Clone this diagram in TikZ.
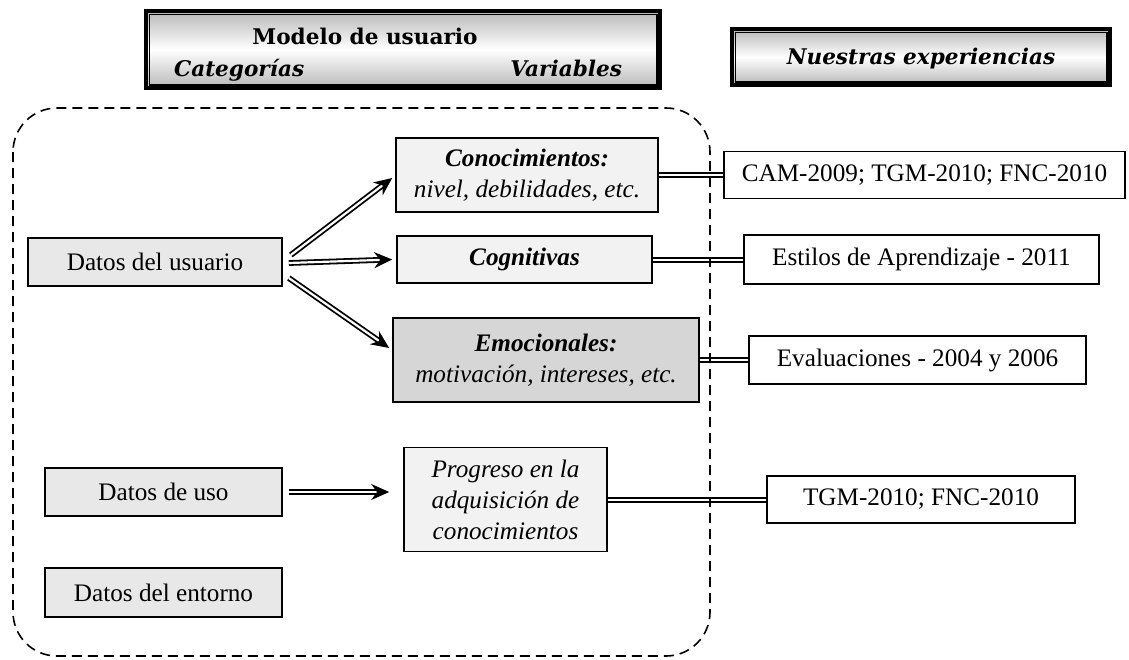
\documentclass[tikz,border=0pt]{standalone}
\usepackage{fontspec}
\setmainfont{Liberation Serif}
\newfontfamily\headfont{DejaVu Serif}
\usetikzlibrary{arrows.meta}

\begin{document}
\begin{tikzpicture}[
      x=0.5pt, y=-0.5pt,
      every node/.style={font=\fontsize{12.6}{15.5}\selectfont},
      box/.style={draw,line width=0.8pt,align=center,inner sep=0pt},
      datos/.style={box,fill=black!9},
      varbox/.style={box,fill=black!5},
      emocion/.style={box,fill=black!16},
      experiencia/.style={box,fill=white},
      head/.style={draw,line width=1.6pt,top color=black!28,bottom color=black!28,middle color=white,inner sep=0pt},
      head text/.style={font=\headfont\bfseries\fontsize{10.8}{12}\selectfont},
      head italic/.style={font=\headfont\bfseries\itshape\fontsize{10.8}{12}\selectfont},
      modelo/.style={dash pattern=on 5pt off 3pt,line width=0.8pt,rounded corners=22pt},
      feed/.style={double,double distance=1.1pt,line width=0.9pt,-{Stealth[length=9pt,width=8pt]}},
      link/.style={double,double distance=1pt,line width=1pt}
      ]
      \useasboundingbox (0,0) rectangle (1129,659);
      % headers
      \node [head,minimum width=257pt,minimum height=38.5pt] (h1) at (403,49.5) {};
      \draw [line width=0.9pt] ([shift={(5,5)}]h1.north west) rectangle ([shift={(-5,-5)}]h1.south east);
      \node [head text,anchor=base] (titulo) at (365,44) {Modelo de usuario};
      \node [head italic,anchor=base west] (categorias) at (167,76) {Categorías};
      \node [head italic,anchor=base east] (variables) at (629,76) {Variables};
      \node [head,minimum width=189pt,minimum height=28pt] (h2) at (921,57) {};
      \draw [line width=0.9pt] ([shift={(5,5)}]h2.north west) rectangle ([shift={(-5,-5)}]h2.south east);
      \node [head italic,anchor=base] (nuestras) at (921,64) {Nuestras experiencias};
      % categorias
      \node [datos,minimum width=127pt,minimum height=24pt] (usuario) at (155,262) {Datos del usuario};
      \node [datos,minimum width=118.5pt,minimum height=24pt] (uso) at (163.5,492) {Datos de uso};
      \node [datos,minimum width=118.5pt,minimum height=24.5pt] (entorno) at (163.5,592.5) {Datos del entorno};
      % variables
      \node [varbox,minimum width=131pt,minimum height=37pt] (conoc) at (527,175)
            {\textbf{\textit{Conocimientos:}}\\ \textit{nivel, debilidades, etc.}};
      \node [varbox,minimum width=127.5pt,minimum height=23.5pt] (cognit) at (524.5,259.5)
            {\textbf{\textit{Cognitivas}}};
      \node [emocion,minimum width=153pt,minimum height=42pt] (emoc) at (546,360)
            {\textbf{\textit{Emocionales:}}\\ \textit{motivación, intereses, etc.}};
      \node [varbox,minimum width=101.5pt,minimum height=52pt] (progreso) at (505.5,499.5)
            {\textit{Progreso en la}\\ \textit{adquisición de}\\ \textit{conocimientos}};
      % experiencias
      \node [experiencia,minimum width=200.5pt,minimum height=23.5pt] (cam) at (924.5,175)
            {CAM-2009; TGM-2010; FNC-2010};
      \node [experiencia,minimum width=177.5pt,minimum height=24.5pt] (estilos) at (921.5,259.5)
            {Estilos de Aprendizaje - 2011};
      \node [experiencia,minimum width=168.5pt,minimum height=24pt] (evalua) at (917.5,360)
            {Evaluaciones - 2004 y 2006};
      \node [experiencia,minimum width=154pt,minimum height=23.5pt] (tgm) at (921,499.5)
            {TGM-2010; FNC-2010};
      % arrows
      \draw [feed] ([shift={(8,-7)}]usuario.east) -- ([shift={(-3,3)}]conoc.west);
      \draw [feed] ([shift={(6,1)}]usuario.east) -- ([shift={(-4,0)}]cognit.west);
      \draw [feed] ([shift={(6,16)}]usuario.east) -- ([shift={(-3,-12)}]emoc.west);
      \draw [feed] ([shift={(6,0)}]uso.east) -- ([shift={(-14,-7.5)}]progreso.west);
      % links
      \draw [link] (conoc.east) -- (cam.west);
      \draw [link] (cognit.east) -- (estilos.west);
      \draw [link] (emoc.east) -- (evalua.west);
      \draw [link] (progreso.east) -- (tgm.west);
      % user model
      \draw [modelo] (13,108) rectangle (710,656);
\end{tikzpicture}
\end{document}
